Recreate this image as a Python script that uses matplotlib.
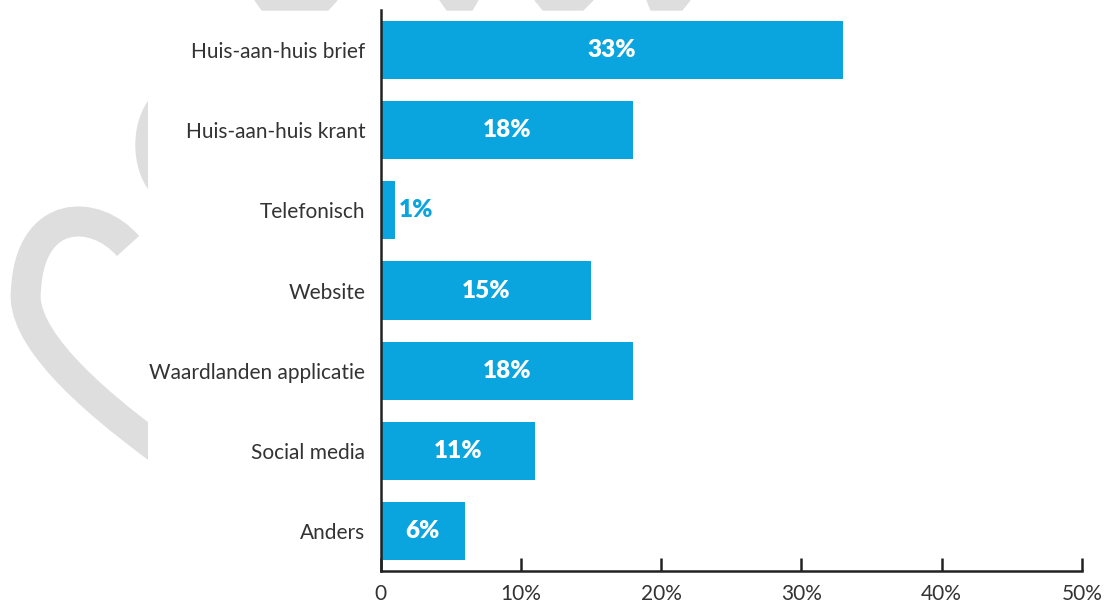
import numpy as np
import matplotlib.pyplot as plt
from matplotlib.patches import PathPatch, Ellipse, Polygon, Rectangle
from matplotlib.path import Path

categories = ['Huis-aan-huis brief', 'Huis-aan-huis krant', 'Telefonisch', 'Website',
              'Waardlanden applicatie', 'Social media', 'Anders']
values = [33, 18, 1, 15, 18, 11, 6]
x_ticks = [0, 10, 20, 30, 40, 50]
x_tick_labels = ['0', '10%', '20%', '30%', '40%', '50%']

blue = '#0aa5df'
grey = '#dedede'
dark = '#333333'

plt.rcParams['font.family'] = ['Lato', 'DejaVu Sans']

W, H = 1115, 605
fig = plt.figure(figsize=(W / 100, H / 100), dpi=100)


def px(x, y):
    # pixel position (from top left) -> figure fraction
    return (x / W, 1 - y / H)


# light grey background ornament (part of a heart outline)
clip = Rectangle((0, 0), 148 / W, 1, transform=fig.transFigure, visible=False)
fig.add_artist(clip)

verts = [px(128, 246), px(95, 208), px(30, 208), px(26, 290),
         px(20, 335), px(85, 395), px(160, 450)]
codes = [Path.MOVETO] + [Path.CURVE4] * 6
arc = PathPatch(Path(verts, codes), fill=False, edgecolor=grey, lw=21.6,
                capstyle='butt', transform=fig.transFigure, zorder=0)
fig.add_artist(arc)
arc.set_clip_path(clip)

lobe = Ellipse(px(176, 145), 80 / W, 120 / H, color=grey,
               transform=fig.transFigure, zorder=0)
fig.add_artist(lobe)
lobe.set_clip_path(clip)

for top, bottom in [((255, 337), (262, 328)), ((440, 478), (447, 472)),
                    ((535, 593), (543, 583)), ((647, 690), (651, 682))]:
    poly = Polygon([px(top[0], 0), px(top[1], 0), px(bottom[1], 10), px(bottom[0], 10)],
                   closed=True, color=grey, transform=fig.transFigure, zorder=0)
    fig.add_artist(poly)

ax = fig.add_axes([380.5 / W, 1 - 571 / H, (1082 - 380.5) / W, (571 - 10) / H])
ax.patch.set_visible(False)

y = np.arange(len(categories))
ax.barh(y, values, height=0.725, color=blue, zorder=2)
ax.set_xlim(0, 50)
ax.set_ylim(len(categories) - 0.5, -0.5)

for yi, v in zip(y, values):
    if v >= 3:
        ax.text(v / 2, yi, f'{v}%', ha='center', va='center', color='white',
                fontsize=17.5, fontweight='heavy', zorder=3)
    else:
        ax.text(v + 0.3, yi, f'{v}%', ha='left', va='center', color=blue,
                fontsize=17.5, fontweight='heavy', zorder=3)

ax.set_yticks(y)
ax.set_yticklabels(categories, fontsize=15, color=dark)
ax.set_xticks(x_ticks)
ax.set_xticklabels(x_tick_labels, fontsize=15, color=dark)
ax.tick_params(axis='y', length=0, pad=11)
ax.tick_params(axis='x', direction='in', length=9.5, width=1.8, color='#222222', pad=9)

for side in ['top', 'right']:
    ax.spines[side].set_visible(False)
for side in ['left', 'bottom']:
    ax.spines[side].set_color('#222222')
    ax.spines[side].set_linewidth(1.8)

fig.savefig('out.png', dpi=100)
